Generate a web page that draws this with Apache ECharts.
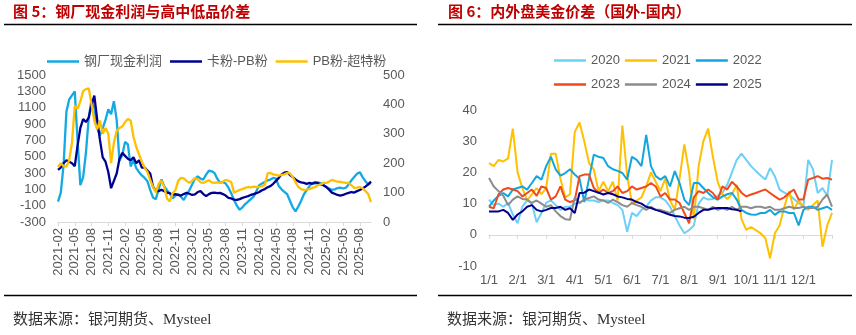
<!DOCTYPE html>
<html><head><meta charset="utf-8">
<script src="https://cdn.jsdelivr.net/npm/echarts@6/dist/echarts.min.js"></script>
<style>html,body{margin:0;padding:0;background:#fff}#c{width:856px;height:335px}</style>
</head><body><div id="c"></div>
<script>
// ---------- Left chart (图5) : half-monthly points from 2021-02-01 ----------
const leftStartYear = 2021, leftStartMonth = 2, leftPoints = 113;
const profitName = '钢厂现金利润', kaName = '卡粉-PB粉', pbName = 'PB粉-超特粉';
const profit = [-50,60,400,1050,1200,1250,1300,700,150,250,
550,980,1200,1100,850,760,850,950,1080,1020,
1180,950,450,520,680,650,380,460,360,310,
270,240,200,90,0,-20,100,220,140,90,
50,-10,20,40,10,-30,30,90,160,230,
260,230,220,280,330,320,300,230,180,190,
170,120,50,-30,-100,-150,-120,-80,-50,-20,
10,80,150,170,190,210,220,240,230,140,
100,70,40,-40,-120,-170,-110,-40,40,90,
140,180,170,185,175,150,130,110,95,100,
115,120,110,120,160,210,250,290,310,250,
200,160,180];
const kaPb = [177,185,200,210,205,200,190,260,320,350,
340,355,400,430,350,280,220,205,170,115,
140,165,215,235,225,215,210,220,200,210,
185,185,175,165,120,105,105,110,105,100,
98,92,95,92,90,95,99,96,92,94,
102,105,95,88,95,99,100,98,99,95,
90,82,80,76,75,78,82,85,88,92,
95,98,102,108,112,118,122,130,140,150,
162,168,170,160,153,145,138,135,133,130,
133,130,135,132,128,125,119,110,100,96,
92,90,92,96,99,102,100,105,109,115,
120,128,138];
const pbSuper = [187,200,190,188,210,270,395,385,410,445,
452,455,400,345,315,345,300,320,300,200,
270,310,320,325,340,350,345,290,255,230,
205,185,170,143,119,100,130,140,120,80,
70,98,108,140,150,148,140,133,140,150,
145,135,133,138,142,135,133,135,133,138,
143,140,136,99,105,109,112,116,119,118,
120,119,119,122,126,165,167,162,160,158,
160,162,167,165,153,135,119,112,109,110,
112,116,119,125,128,133,133,138,143,140,
137,136,135,133,133,125,116,117,119,115,
105,95,68];

// ---------- Right chart (图6) : 5-day points through the year ----------
const rightDays = [1,6,11,16,21,26];
const rightYears = ['2020','2021','2022','2023','2024','2025'];
const y2020 = [11.3,9.5,10,9,10.2,6.5, 3.7,9,11,10,4,7, 10.2,11,9.5,8,9,9,
10,10.2,11.3,11,11,10.5, 11,11,10.2,9.5,8,1, 7,6,8,9,11,12,
12,11,9,6,3,0.5, 1.5,3,10,12,11.3,11.5, 12.5,13.4,16,20,24,26,
24,22,20.5,19,17.7,21.4, 18.8,14.5,13.5,12.8,11.5,10.2, 9,24,21,13.4,15,12.5, 24];
const y2021 = [23,22,24,23.5,24.5,34, 20,15,11,13,15,13, 15,26,26,18,12,13,
33,36,30,23,21,14, 17,14,17,11,35,19, 10,11,12,15.5,20,17,
14,18,11,8,18,29, 20,5,22,30,34,25, 17,13,11.5,13,16,5,
1.6,2.5,1.5,0.5,-1,-7.5, 0.5,3,9,14,8,11, 9,8,9.5,11,-3.8,3, 7];
const y2022 = [9,11,12.5,13.4,12.3,14.5, 15,15.5,14.5,16.6,18.8,17.7, 22,25,21,19,19.8,21,
19.3,18,10.5,18,25.7,25, 24.6,22,21,20.5,19.8,17.7, 25,24,22,32,22,18.8,
17.7,18.8,15.5,20.4,16.6,11.3, 9.5,16.6,16.6,15,13.4,12, 11.3,12.3,13,13.4,11.3,8,
7,6.5,6.4,7,7,8, 6.4,7.5,7.5,7,7,3, 8,9,9,8,8.5,9, 8];
const y2023 = [9,8.5,13,14.5,15,14.5, 14,12.3,13.4,14.5,12.5,15.5, 15,11.3,12.3,15.5,11.3,10.5,
11,18.8,19.3,19.3,15,13.4, 14.5,13.4,14,15.5,13.4,14, 15.5,14.5,15,15.5,16.6,15.5,
12.3,13.4,11.3,11.3,10.2,7, 3.7,12,14,13.4,14.5,13.4, 11.3,15.5,14.5,17,15.5,13.5,
12.3,12.9,13.4,14,14.5,13.4, 12.3,11.3,12,13.4,14.5,11.3, 11.3,17.7,18.2,18.8,18,18.2, 17.7];
const y2024 = [18.2,15.5,14,12.5,9.5,11.3, 12.3,11.5,11.3,10.2,11,10, 9,9.5,7.5,6,5,4.8,
12,10.2,11.3,11.8,12.3,11.3, 11,10.2,11.3,10.5,9.5,9, 10.2,9.5,9,8,9,8,
8,7.5,7,8,8.5,9, 8,9,9,8.5,8,9, 8,8.5,8,9,8,9,
9,8.5,9,9,8.6,9, 8,8,8.5,9,8.6,8.6, 9,8.6,8.6,9,11.3,12.9, 9];
const y2025 = [7.5,7.5,7.5,8,7,4.8, 6.5,7.5,9,9.5,8,7.5, 8,8.6,8.6,9,8,8.5,
7,13.4,13.5,14.5,14,13.5, 12.9,13.4,13,12.3,12,11.5, 11.3,10.5,10,9,8.6,8,
7.5,7,6.4,6,5.9,5.5, 5.4,5.8,7,8,8,8.4, 8.6,8.6,8.6,8.2,8,7.5];

// categories
const leftCats = [];
for (let i = 0; i < leftPoints; i++) {
  const mIdx = leftStartMonth - 1 + Math.floor(i / 2);
  const yy = leftStartYear + Math.floor(mIdx / 12);
  const mm = (mIdx % 12) + 1;
  leftCats.push(yy + '-' + (mm < 10 ? '0' + mm : mm) + '-' + (i % 2 ? '16' : '01'));
}
const rightCats = [];
for (let m = 1; m <= 12; m++) rightDays.forEach(d => rightCats.push(m + '/' + d));
rightCats.push('12/31');

const FONT = 'Arial, "Liberation Sans", "Noto Sans CJK SC", sans-serif';
const TXT = '#595959';
const AX = '#d9d9d9';
const yearColors = ['#6dd0f7', '#ffc000', '#12a6de', '#f04a1c', '#8c8c8c', '#000088'];
const yearData = [y2020, y2021, y2022, y2023, y2024, y2025];

const chart = echarts.init(document.getElementById('c'), null, {renderer: 'canvas'});

const legendBase = {
  icon: 'rect', itemWidth: 32, itemHeight: 2.5,
  textStyle: {fontSize: 13, color: TXT, fontFamily: FONT}
};
const plain = (v) => String(v);

const series = [
  {name: profitName, type: 'line', xAxisIndex: 0, yAxisIndex: 0, data: profit, symbol: 'none',
   lineStyle: {width: 2.3, color: '#14a9e2'}, itemStyle: {color: '#14a9e2'}},
  {name: kaName, type: 'line', xAxisIndex: 0, yAxisIndex: 1, data: kaPb, symbol: 'none',
   lineStyle: {width: 2.3, color: '#000090'}, itemStyle: {color: '#000090'}},
  {name: pbName, type: 'line', xAxisIndex: 0, yAxisIndex: 1, data: pbSuper, symbol: 'none',
   lineStyle: {width: 2.3, color: '#ffc000'}, itemStyle: {color: '#ffc000'}}
];
rightYears.forEach((y, k) => series.push({
  name: y, type: 'line', xAxisIndex: 1, yAxisIndex: 2, data: yearData[k], symbol: 'none',
  lineStyle: {width: 2, color: yearColors[k]}, itemStyle: {color: yearColors[k]}
}));

const titleFont = 'bold 15px "Noto Sans CJK SC", sans-serif';
const srcFont = '15px "Liberation Serif", "Noto Sans CJK SC", serif';

chart.setOption({
  animation: false,
  legend: [
    Object.assign({data: [profitName, kaName, pbName], left: 42, top: 50, itemGap: 8}, legendBase),
    Object.assign({data: ['2020', '2021', '2022'], left: 549, top: 49, itemGap: 5}, legendBase),
    Object.assign({data: ['2023', '2024', '2025'], left: 549, top: 73, itemGap: 5}, legendBase)
  ],
  grid: [
    {left: 58, top: 75, width: 313, height: 147},
    {left: 489, top: 110, width: 343, height: 156}
  ],
  xAxis: [
    {type: 'category', gridIndex: 0, data: leftCats, boundaryGap: false,
     axisLine: {onZero: false, lineStyle: {color: AX, width: 1}},
     axisTick: {interval: (i) => i % 6 === 0, length: 4, lineStyle: {color: AX}},
     axisLabel: {interval: (i) => i % 6 === 0, rotate: 90, margin: 6, fontSize: 13, color: TXT,
       fontFamily: FONT, formatter: (v) => v.slice(0, 7)}},
    {type: 'category', gridIndex: 1, data: rightCats, boundaryGap: false,
     axisLine: {onZero: true, lineStyle: {color: AX, width: 1}},
     axisTick: {interval: (i) => i % 6 === 0, length: 4, lineStyle: {color: AX}},
     axisLabel: {interval: (i) => i % 6 === 0 && i < 72, margin: 8, fontSize: 13, color: TXT,
       fontFamily: FONT}}
  ],
  yAxis: [
    {type: 'value', gridIndex: 0, min: -300, max: 1500, interval: 200,
     splitLine: {show: false}, axisLine: {show: false}, axisTick: {show: false},
     axisLabel: {fontSize: 13, color: TXT, margin: 12, fontFamily: FONT, formatter: plain}},
    {type: 'value', gridIndex: 0, position: 'right', min: 0, max: 500, interval: 100,
     splitLine: {show: false}, axisLine: {show: false}, axisTick: {show: false},
     axisLabel: {fontSize: 13, color: TXT, margin: 12, fontFamily: FONT, formatter: plain}},
    {type: 'value', gridIndex: 1, min: -10, max: 40, interval: 10,
     splitLine: {show: false}, axisLine: {show: false}, axisTick: {show: false},
     axisLabel: {fontSize: 13, color: TXT, margin: 12, fontFamily: FONT, formatter: plain}}
  ],
  graphic: [
    {type: 'text', left: 13, top: 4, style: {text: '图 5：钢厂现金利润与高中低品价差', font: titleFont, fill: '#c00000'}},
    {type: 'text', left: 448, top: 4, style: {text: '图 6：内外盘美金价差（国外-国内）', font: titleFont, fill: '#c00000'}},
    {type: 'line', shape: {x1: 4, y1: 24.5, x2: 417, y2: 24.5}, style: {stroke: '#000', lineWidth: 1.5}},
    {type: 'line', shape: {x1: 438, y1: 24.5, x2: 852, y2: 24.5}, style: {stroke: '#000', lineWidth: 1.5}},
    {type: 'line', shape: {x1: 4, y1: 295.5, x2: 417, y2: 295.5}, style: {stroke: '#000', lineWidth: 1.5}},
    {type: 'line', shape: {x1: 438, y1: 295.5, x2: 852, y2: 295.5}, style: {stroke: '#000', lineWidth: 1.5}},
    {type: 'text', left: 13, top: 313, style: {text: '数据来源：银河期货、Mysteel', font: srcFont, fill: '#333'}},
    {type: 'text', left: 447, top: 313, style: {text: '数据来源：银河期货、Mysteel', font: srcFont, fill: '#333'}}
  ],
  series: series
});
</script>
</body></html>
